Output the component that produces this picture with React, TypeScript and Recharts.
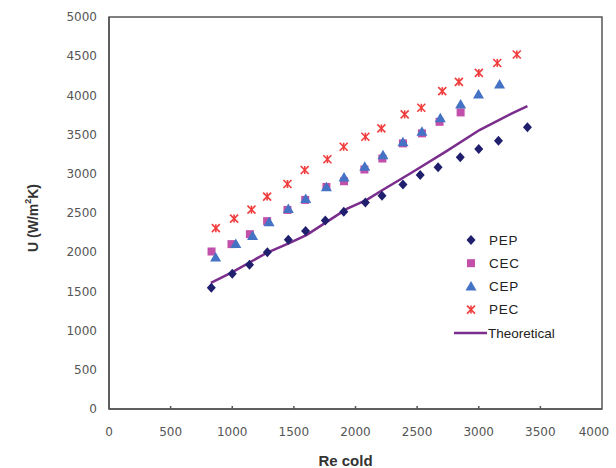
import { ReferenceArea, Scatter, ScatterChart, XAxis, YAxis } from 'recharts'

const X_TICKS = [0, 500, 1000, 1500, 2000, 2500, 3000, 3500, 4000]
const Y_TICKS = [0, 500, 1000, 1500, 2000, 2500, 3000, 3500, 4000, 4500, 5000]

const PEP_RE = [830, 1000, 1140, 1285, 1455, 1595, 1755, 1905, 2080, 2215, 2385, 2525, 2670, 2850, 3000, 3160, 3395]
const PEP_U = [1545, 1725, 1840, 2000, 2160, 2270, 2405, 2515, 2635, 2720, 2865, 2985, 3085, 3210, 3315, 3420, 3595]

const CEC_RE = [832, 994, 1143, 1283, 1448, 1592, 1764, 1907, 2072, 2218, 2385, 2539, 2682, 2853]
const CEC_U = [2009, 2103, 2230, 2396, 2539, 2667, 2832, 2905, 3055, 3195, 3388, 3516, 3663, 3783]

const CEP_RE = [865, 1029, 1165, 1299, 1455, 1596, 1764, 1907, 2075, 2223, 2385, 2539, 2688, 2853, 2998, 3169]
const CEP_U = [1932, 2103, 2208, 2383, 2550, 2677, 2830, 2953, 3091, 3236, 3401, 3536, 3707, 3885, 4012, 4139]

const PEC_RE = [867, 1015, 1156, 1283, 1448, 1588, 1772, 1904, 2080, 2210, 2399, 2534, 2704, 2839, 3001, 3150, 3309]
const PEC_U = [2307, 2429, 2543, 2709, 2870, 3049, 3186, 3345, 3473, 3579, 3758, 3842, 4054, 4173, 4287, 4414, 4521]

const THEORY_RE = [827, 1005, 1280, 1467, 1605, 1767, 1929, 2091, 2220, 2464, 2739, 3006, 3274, 3395]
const THEORY_U = [1610, 1750, 1992, 2119, 2221, 2387, 2552, 2667, 2794, 3023, 3290, 3558, 3774, 3863]

const zip = (xs: number[], ys: number[]) => xs.map((x, i) => ({ x, y: ys[i] }))

const C_PEP = '#1f1f6e'
const C_CEC = '#c24fa9'
const C_CEP = '#4472c4'
const C_PEC = '#f03c3c'
const C_THEORY = '#7a2d8c'

const Diamond = ({ cx, cy }: any) => (
  <polygon points={`${cx},${cy - 5} ${cx + 4.5},${cy} ${cx},${cy + 5} ${cx - 4.5},${cy}`} fill={C_PEP} />
)
const Square = ({ cx, cy }: any) => <rect x={cx - 4} y={cy - 4} width={8} height={8} fill={C_CEC} />
const Triangle = ({ cx, cy }: any) => (
  <polygon points={`${cx},${cy - 5.5} ${cx + 5.5},${cy + 4} ${cx - 5.5},${cy + 4}`} fill={C_CEP} />
)
const Star = ({ cx, cy }: any) => (
  <g stroke={C_PEC} strokeWidth={1.6}>
    <line x1={cx - 4} y1={cy - 4} x2={cx + 4} y2={cy + 4} />
    <line x1={cx - 4} y1={cy + 4} x2={cx + 4} y2={cy - 4} />
    <line x1={cx} y1={cy - 4} x2={cx} y2={cy + 4} />
  </g>
)
const NoDot = () => <g />

const tickStyle = { fontFamily: 'DejaVu Sans', fontSize: 12, fill: '#555' }

// x ticks: small mark pointing into the plot, label below
const XTick = ({ x, y, payload }: any) => {
  const axisY = y - 18
  const lx = Math.min(x, 594)
  return (
    <g>
      {payload.value > 0 && payload.value < 4000 && (
        <line x1={x} y1={axisY} x2={x} y2={axisY - 3} stroke="#555" strokeWidth={1.5} />
      )}
      <text x={lx} y={y} dy="0.71em" textAnchor="middle" style={tickStyle}>
        {payload.value}
      </text>
    </g>
  )
}

const YTitle = () => (
  <text
    x={33}
    y={218}
    transform="rotate(-90, 33, 218)"
    textAnchor="middle"
    dominantBaseline="central"
    style={{ fontFamily: 'Liberation Sans', fontSize: 14, fontWeight: 'bold', fill: '#333' }}
  >
    U (W/m<tspan dy={-5} fontSize={9}>2</tspan>
    <tspan dy={5}>K)</tspan>
  </text>
)

const legendRows = [
  { name: 'PEP', Shape: Diamond },
  { name: 'CEC', Shape: Square },
  { name: 'CEP', Shape: Triangle },
  { name: 'PEC', Shape: Star },
]

// legend sits over the plot, bottom right
const LegendBox = () => (
  <svg width={150} height={120} style={{ position: 'absolute', left: 440, top: 225 }}>
    {legendRows.map((r, i) => (
      <g key={r.name}>
        <r.Shape cx={31} cy={15 + i * 23.2} />
        <text x={49} y={15 + i * 23.2} dominantBaseline="central"
          style={{ fontFamily: 'Liberation Sans', fontSize: 13.5, fill: '#222', letterSpacing: 0.8 }}>
          {r.name}
        </text>
      </g>
    ))}
    <line x1={14} y1={108} x2={47} y2={108} stroke={C_THEORY} strokeWidth={2.5} />
    <text x={48} y={108} dominantBaseline="central"
      style={{ fontFamily: 'Liberation Sans', fontSize: 13.5, fill: '#222' }}>
      Theoretical
    </text>
  </svg>
)

export default function App() {
  return (
    <div style={{ position: 'absolute', left: 0, top: 0, width: 616, height: 468, background: '#fff' }}>
      <ScatterChart width={616} height={468} margin={{ top: 17, right: 14, bottom: 0, left: 0 }}>
        <XAxis
          type="number"
          dataKey="x"
          domain={[0, 4000]}
          ticks={X_TICKS}
          height={59}
          tickLine={false}
          tickSize={8}
          tickMargin={10}
          tick={<XTick />}
          axisLine={{ stroke: '#555', strokeWidth: 1.5 }}
          label={{
            value: 'Re cold',
            position: 'insideBottom',
            offset: 2,
            dx: -10,
            style: { fontFamily: 'Liberation Sans', fontSize: 15, fontWeight: 'bold', fill: '#333' },
          }}
        />
        <YAxis
          type="number"
          dataKey="y"
          domain={[0, 5000]}
          ticks={Y_TICKS}
          width={109}
          tickLine={false}
          tickSize={4}
          tickMargin={8}
          tick={tickStyle}
          axisLine={{ stroke: '#555', strokeWidth: 1.5 }}
          label={{ content: () => <YTitle /> }}
        />
        <ReferenceArea x1={0} x2={4000} y1={0} y2={5000} fill="none" stroke="#555" strokeWidth={1.5} />
        <Scatter name="Theoretical" data={zip(THEORY_RE, THEORY_U)} line={{ stroke: C_THEORY, strokeWidth: 2.5 }} shape={NoDot} isAnimationActive={false} />
        <Scatter name="PEP" data={zip(PEP_RE, PEP_U)} shape={Diamond} isAnimationActive={false} />
        <Scatter name="CEC" data={zip(CEC_RE, CEC_U)} shape={Square} isAnimationActive={false} />
        <Scatter name="CEP" data={zip(CEP_RE, CEP_U)} shape={Triangle} isAnimationActive={false} />
        <Scatter name="PEC" data={zip(PEC_RE, PEC_U)} shape={Star} isAnimationActive={false} />
      </ScatterChart>
      <LegendBox />
    </div>
  )
}
